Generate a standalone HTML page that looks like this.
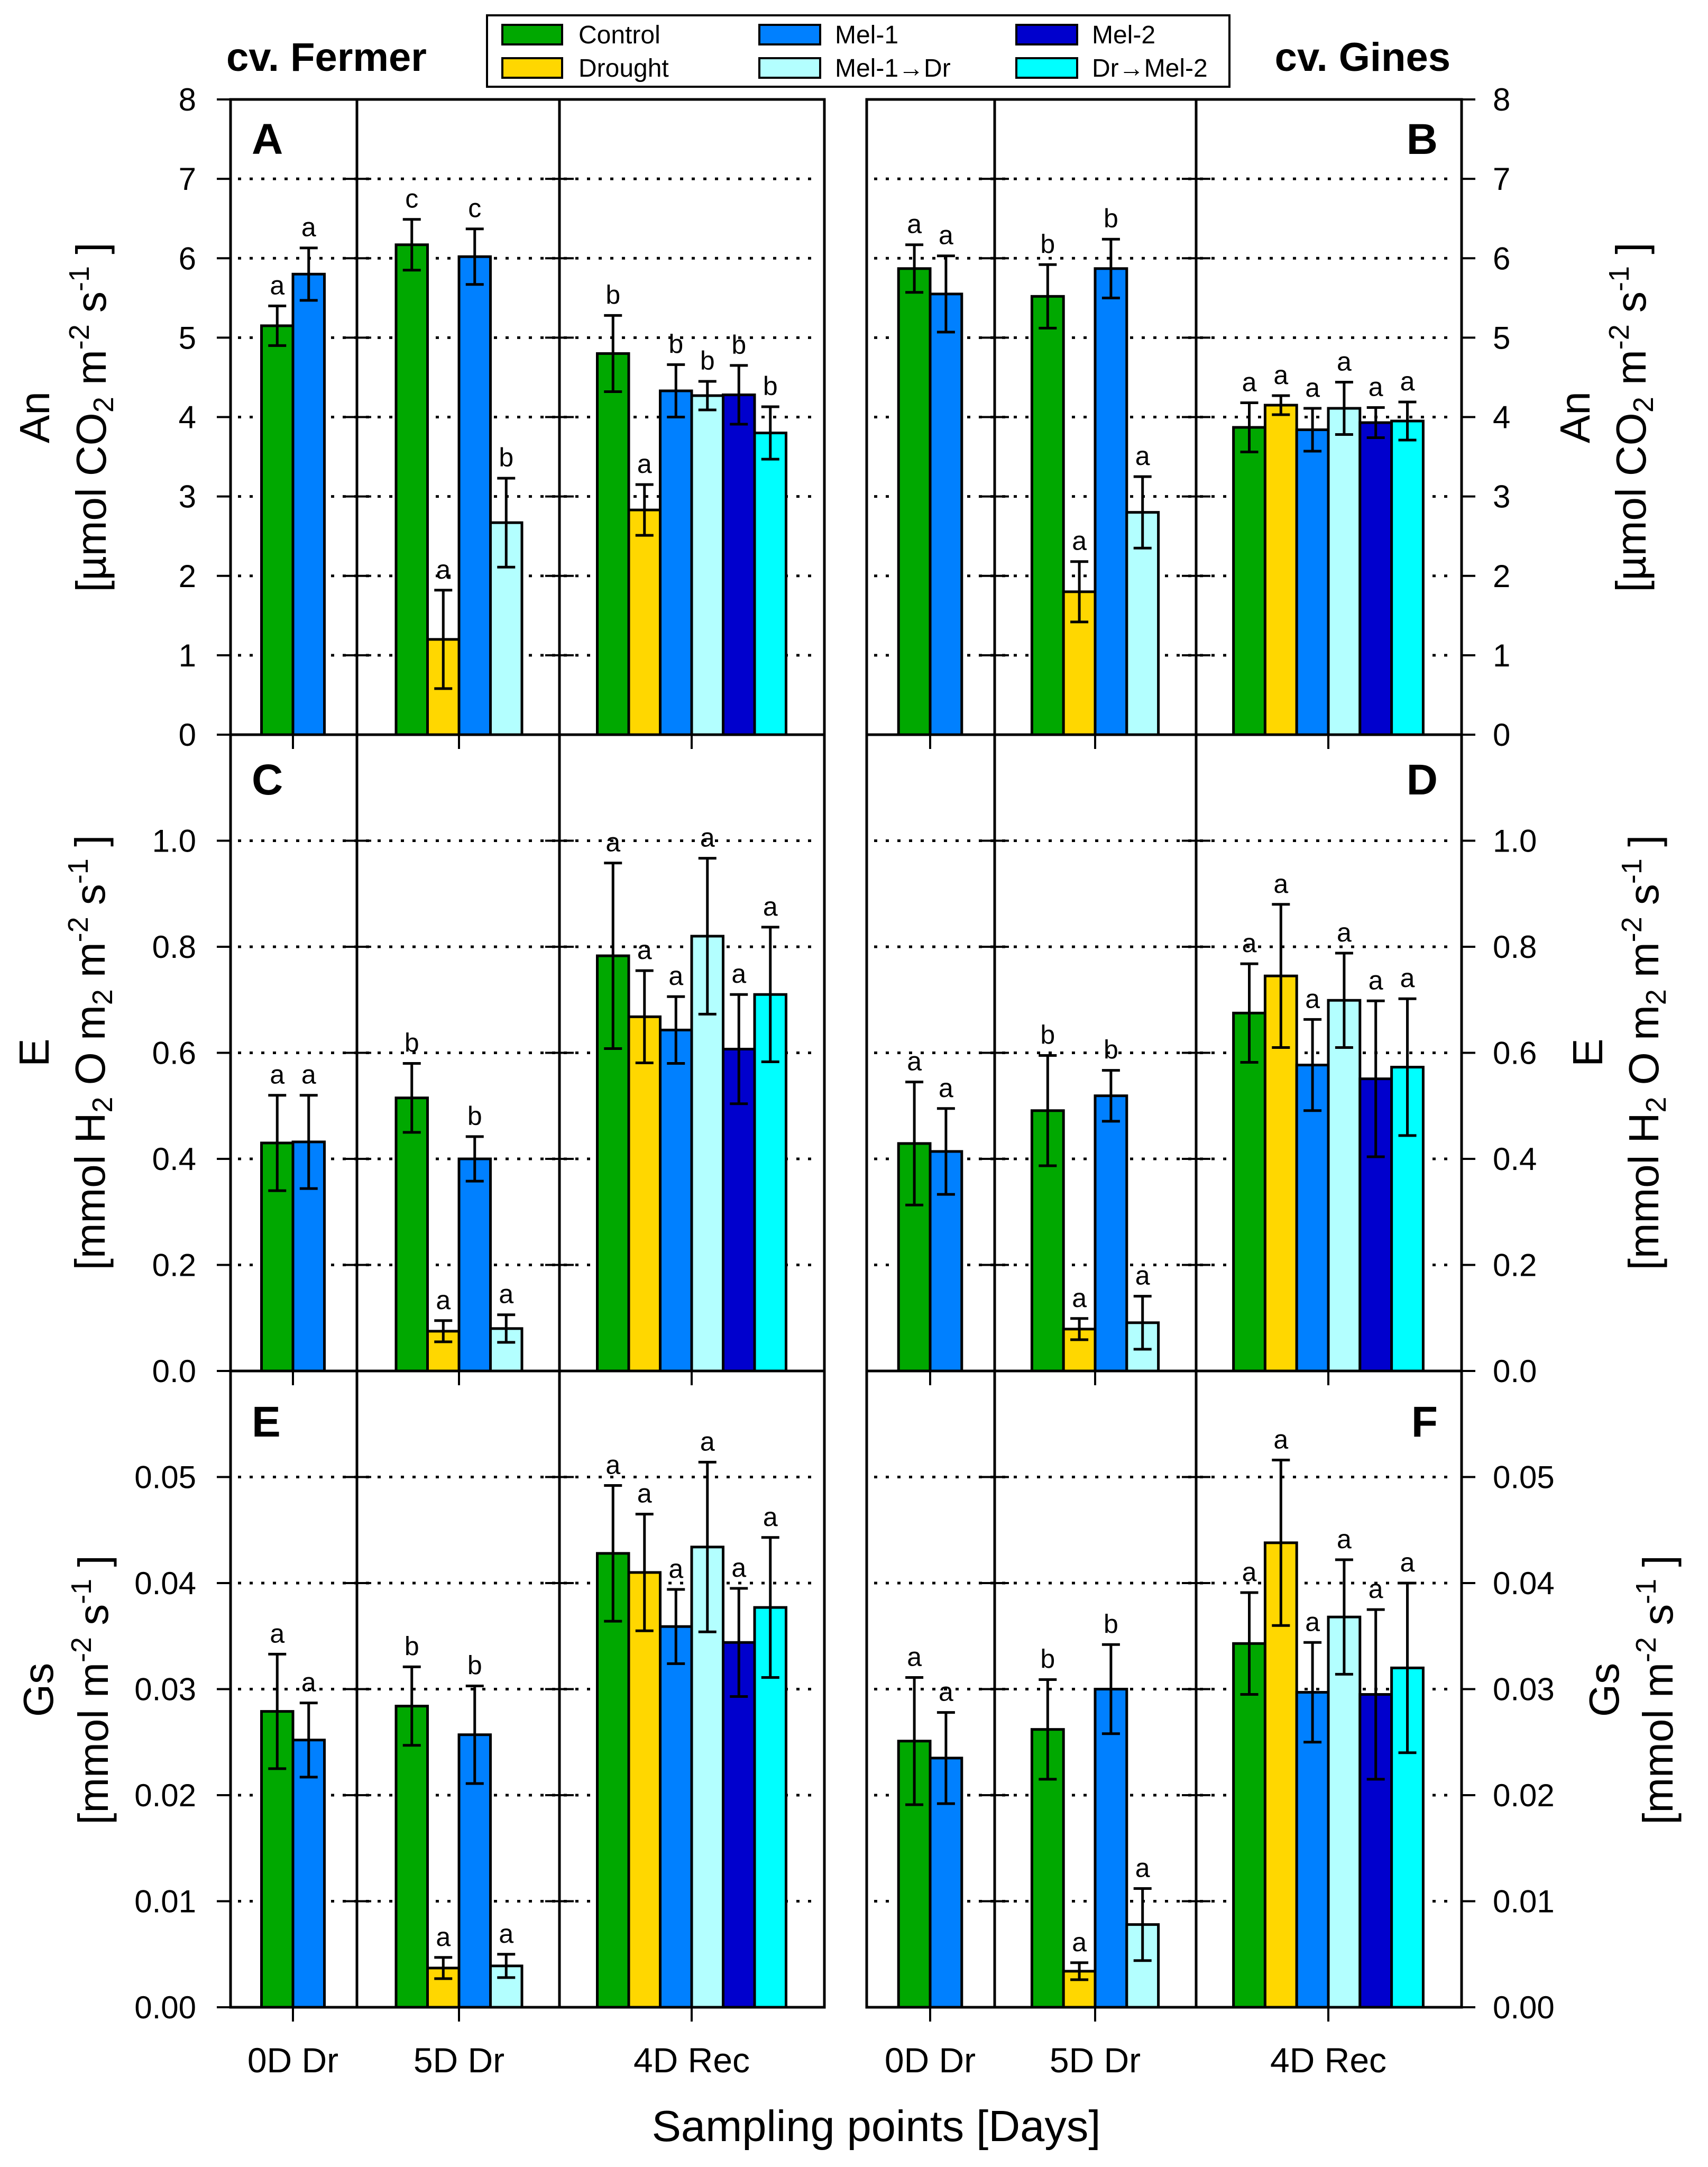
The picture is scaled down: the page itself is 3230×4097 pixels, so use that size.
<!DOCTYPE html>
<html><head><meta charset="utf-8"><style>
html,body{margin:0;padding:0;background:#fff}
svg{display:block;font-family:"Liberation Sans",Arial,sans-serif}
</style></head><body>
<svg id="chart" xmlns="http://www.w3.org/2000/svg" width="3230" height="4097" viewBox="0 0 3230 4097">
<rect x="0" y="0" width="3230" height="4097" fill="#fff"/>
<text x="428" y="134" font-size="76" font-weight="bold">cv. Fermer</text>
<text x="2743" y="134" font-size="76" font-weight="bold" text-anchor="end">cv. Gines</text>
<g>
<rect x="921" y="29" width="1404" height="135" fill="#fff" stroke="#000" stroke-width="4"/>
<g><rect x="950" y="47" width="113" height="37" fill="#00A800" stroke="#000" stroke-width="4"/><text x="1094" y="82" font-size="48">Control</text></g>
<g><rect x="950" y="110" width="113" height="37" fill="#FFD700" stroke="#000" stroke-width="4"/><text x="1094" y="145" font-size="48">Drought</text></g>
<g><rect x="1436" y="47" width="115" height="37" fill="#0080FF" stroke="#000" stroke-width="4"/><text x="1579" y="82" font-size="48">Mel-1</text></g>
<g><rect x="1436" y="110" width="115" height="37" fill="#B3FFFF" stroke="#000" stroke-width="4"/><text x="1579" y="145" font-size="48">Mel-1→Dr</text></g>
<g><rect x="1922" y="47" width="115" height="37" fill="#0000CD" stroke="#000" stroke-width="4"/><text x="2065" y="82" font-size="48">Mel-2</text></g>
<g><rect x="1922" y="110" width="115" height="37" fill="#00FFFF" stroke="#000" stroke-width="4"/><text x="2065" y="145" font-size="48">Dr→Mel-2</text></g>
</g>
<text x="1657" y="4048" font-size="83" text-anchor="middle">Sampling points [Days]</text>
</svg>
<script>
// categories
const categories = ['0D Dr','5D Dr','4D Rec'];
// series per group: g1 = Control, Mel-1 ; g2 = Control, Drought, Mel-1, Mel-1→Dr ; g3 = all six
const anFermerMean = [[5.15,5.8],[6.17,1.2,6.02,2.67],[4.8,2.83,4.33,4.27,4.28,3.8]];
const anFermerErr  = [[0.25,0.33],[0.32,0.62,0.35,0.56],[0.48,0.32,0.33,0.18,0.37,0.33]];
const anFermerLet  = [['a','a'],['c','a','c','b'],['b','a','b','b','b','b']];
const anGinesMean  = [[5.87,5.55],[5.52,1.8,5.87,2.8],[3.87,4.15,3.84,4.11,3.93,3.95]];
const anGinesErr   = [[0.3,0.48],[0.4,0.38,0.37,0.45],[0.31,0.12,0.27,0.33,0.19,0.24]];
const anGinesLet   = [['a','a'],['b','a','b','a'],['a','a','a','a','a','a']];
const eFermerMean  = [[0.43,0.432],[0.515,0.075,0.4,0.08],[0.783,0.668,0.643,0.82,0.607,0.71]];
const eFermerErr   = [[0.09,0.088],[0.065,0.02,0.042,0.026],[0.175,0.087,0.063,0.147,0.103,0.127]];
const eFermerLet   = [['a','a'],['b','a','b','a'],['a','a','a','a','a','a']];
const eGinesMean   = [[0.429,0.414],[0.491,0.079,0.519,0.091],[0.675,0.745,0.577,0.699,0.551,0.573]];
const eGinesErr    = [[0.116,0.081],[0.104,0.02,0.048,0.05],[0.093,0.135,0.086,0.089,0.147,0.129]];
const eGinesLet    = [['a','a'],['b','a','b','a'],['a','a','a','a','a','a']];
const gsFermerMean = [[0.0279,0.0252],[0.0284,0.0037,0.0257,0.0039],[0.0428,0.041,0.0359,0.0434,0.0344,0.0377]];
const gsFermerErr  = [[0.0054,0.0035],[0.0037,0.001,0.0046,0.0011],[0.0064,0.0055,0.0035,0.008,0.0051,0.0066]];
const gsFermerLet  = [['a','a'],['b','a','b','a'],['a','a','a','a','a','a']];
const gsGinesMean  = [[0.0251,0.0235],[0.0262,0.0034,0.03,0.0078],[0.0343,0.0438,0.0297,0.0368,0.0295,0.032]];
const gsGinesErr   = [[0.006,0.0043],[0.0047,0.0008,0.0042,0.0034],[0.0048,0.0078,0.0047,0.0054,0.008,0.008]];
const gsGinesLet   = [['a','a'],['b','a','b','a'],['a','a','a','a','a','a']];
// tick labels
const anTicks = ['0','1','2','3','4','5','6','7','8'];
const eTicks  = ['0.0','0.2','0.4','0.6','0.8','1.0'];
const gsTicks = ['0.00','0.01','0.02','0.03','0.04','0.05'];

const NS='http://www.w3.org/2000/svg';
const svg=document.getElementById('chart');
const GREEN='#00A800',YEL='#FFD700',BLUE='#0080FF',LC='#B3FFFF',DB='#0000CD',CY='#00FFFF';
const groupColors=[[GREEN,BLUE],[GREEN,YEL,BLUE,LC],[GREEN,YEL,BLUE,LC,DB,CY]];
const groupKeys=[['control','mel1'],['control','drought','mel1','mel1-dr'],['control','drought','mel1','mel1-dr','mel2','dr-mel2']];
function mk(tag,attrs,parent){const e=document.createElementNS(NS,tag);for(const k in attrs)e.setAttribute(k,attrs[k]);(parent||svg).appendChild(e);return e;}

const sides=[
 {x0:436,x1:1559,div:[675,1058],cen:[554,868,1308],bw:59.5,side:'left'},
 {x0:1639,x1:2764,div:[1881,2262],cen:[1759,2071,2512],bw:59.8,side:'right'}];
const rows=[
 {top:188,bot:1389,max:8,step:1,ticks:anTicks,name:'an',data:[[anFermerMean,anFermerErr,anFermerLet],[anGinesMean,anGinesErr,anGinesLet]],letters:['A','B']},
 {top:1389,bot:2592,max:1.2,step:0.2,ticks:eTicks,name:'e',data:[[eFermerMean,eFermerErr,eFermerLet],[eGinesMean,eGinesErr,eGinesLet]],letters:['C','D']},
 {top:2592,bot:3795,max:0.06,step:0.01,ticks:gsTicks,name:'gs',data:[[gsFermerMean,gsFermerErr,gsFermerLet],[gsGinesMean,gsGinesErr,gsGinesLet]],letters:['E','F']}];

rows.forEach((r,ri)=>{
 const y=v=>r.bot-(v/r.max)*(r.bot-r.top);
 sides.forEach((s,si)=>{
  const g=mk('g',{});
  
  
  // gridlines & ticks
  r.ticks.forEach((t,i)=>{
   const v=i*r.step, yy=y(v);
   if(i>0){
    const gl=mk('line',{x1:s.x0+14,x2:s.x1-14,y1:yy,y2:yy,stroke:'#000','stroke-width':5,'stroke-dasharray':'6 16'},g);
    
    
   }
   s.div.forEach(dx=>{mk('line',{x1:dx-27,x2:dx+27,y1:yy,y2:yy,stroke:'#000','stroke-width':4},g);});
   const tx = s.side==='left'? s.x0-26 : s.x1+26;
   mk('line',{x1:s.side==='left'?s.x0:s.x1,x2:tx,y1:yy,y2:yy,stroke:'#000','stroke-width':4},g);
   const lab=mk('text',{x:s.side==='left'?371:2823,y:yy+21,'font-size':60,'text-anchor':s.side==='left'?'end':'start'},g);
   lab.textContent=t;
   
   
  });
  // bars
  const [means,errs,lets]=r.data[si];
  means.forEach((grp,gi)=>{
   const n=grp.length, start=s.cen[gi]-n*s.bw/2;
   grp.forEach((v,bi)=>{
    const bx=start+bi*s.bw, by=y(v);
    const b=mk('rect',{x:bx,y:by,width:s.bw,height:r.bot-by,fill:groupColors[gi][bi],stroke:'#000','stroke-width':5},g);
    
    
    const cx=bx+s.bw/2, e=errs[gi][bi], yt=y(v+e), yb=y(v-e);
    const eb=mk('path',{d:`M${cx},${yt}V${yb}M${cx-17},${yt}H${cx+17}M${cx-17},${yb}H${cx+17}`,stroke:'#000','stroke-width':5,fill:'none'},g);
    
    
    const lt=mk('text',{x:cx,y:yt-22,'font-size':50,'text-anchor':'middle'},g);
    lt.textContent=lets[gi][bi];
    
    
   });
   // x tick
   mk('line',{x1:s.cen[gi],x2:s.cen[gi],y1:r.bot,y2:r.bot+27,stroke:'#000','stroke-width':4},g);
  });
  // frame & dividers
  mk('rect',{x:s.x0,y:r.top,width:s.x1-s.x0,height:r.bot-r.top,fill:'none',stroke:'#000','stroke-width':5},g);
  s.div.forEach(dx=>mk('line',{x1:dx,x2:dx,y1:r.top,y2:r.bot,stroke:'#000','stroke-width':5},g));
  // panel letter
  const pl=mk('text',{x:si===0?476:2719,y:r.top+(ri===0?103:(ri===1?113:124)),'font-size':82,'font-weight':'bold','text-anchor':si===0?'start':'end'},g);
  pl.textContent=r.letters[si];
  
  
 });
});

// y-axis titles
function title(name,x,yc,html){
 const t=mk('text',{x:x,y:yc,'font-size':80,'text-anchor':'middle',transform:`rotate(-90 ${x} ${yc})`});
 t.innerHTML=html;
 
 
}
const sub=s=>`<tspan font-size="54" dy="14">${s}</tspan><tspan dy="-14"> </tspan>`;
const sup=s=>`<tspan font-size="54" dy="-32">${s}</tspan><tspan dy="32"> </tspan>`;
const anU=`[µmol CO${sub('2')}m${sup('-2')}s${sup('-1')}]`;
const eU=`[mmol H${sub('2')}O m${sub('2')}m${sup('-2')}s${sup('-1')}]`;
const gsU=`[mmol m${sup('-2')}s${sup('-1')}]`;
title('y-axis-title-an-left',93,789,'An');
title('y-axis-unit-an-left',200,789,anU);
title('y-axis-title-an-right',3006,789,'An');
title('y-axis-unit-an-right',3112,789,anU);
title('y-axis-title-e-left',92,1990,'E');
title('y-axis-unit-e-left',198,1990,eU);
title('y-axis-title-e-right',3030,1990,'E');
title('y-axis-unit-e-right',3136,1990,eU);
title('y-axis-title-gs-left',100,3195,'Gs');
title('y-axis-unit-gs-left',204,3195,gsU);
title('y-axis-title-gs-right',3061,3195,'Gs');
title('y-axis-unit-gs-right',3163,3195,gsU);

// x category labels
sides.forEach(s=>{
 s.cen.forEach((c,i)=>{
  const t=mk('text',{x:c,y:3918,'font-size':66,'text-anchor':'middle'});
  t.textContent=categories[i];
  
  
 });
});
</script>
</body></html>
